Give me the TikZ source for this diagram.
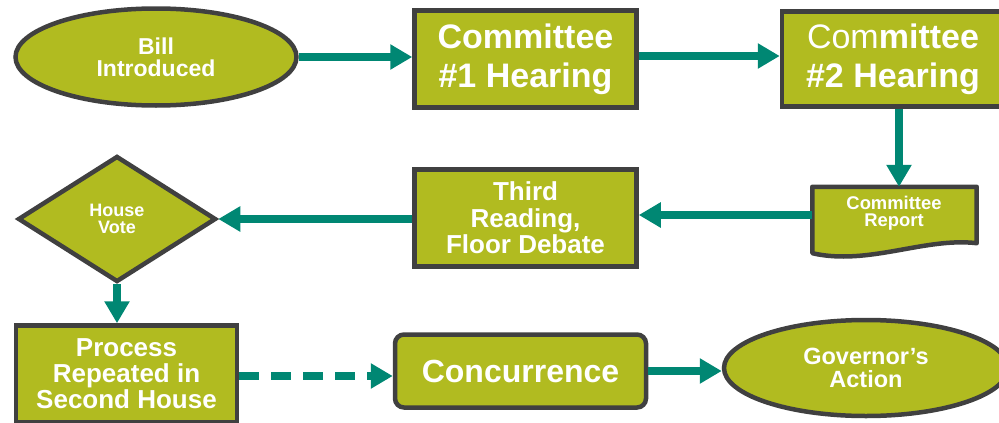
\documentclass[tikz,border=0pt]{standalone}
\usepackage{fontspec}
\setmainfont{Liberation Sans}
\usetikzlibrary{shapes.geometric,arrows.meta}
\definecolor{stepfill}{RGB}{177,187,32}
\definecolor{stepedge}{RGB}{64,64,64}
\definecolor{flowteal}{RGB}{0,135,115}
\newcommand{\fsz}[2]{\fontsize{#1}{#2}\selectfont}
\begin{document}
\begin{tikzpicture}[x=1pt,y=-1pt,
  shapebase/.style={draw=stepedge, line width=4.5pt, fill=stepfill, text=white,
    font=\bfseries, align=center, inner sep=0pt},
  stepbox/.style={shapebase, rectangle},
  oval/.style={shapebase, ellipse},
  choice/.style={shapebase, diamond},
  flow/.style={draw=flowteal, line width=7.5pt,
    -{Triangle[width=24pt,length=22pt]}},
  dashflow/.style={flow, dash pattern=on 20pt off 12pt}]
\useasboundingbox (0,0) rectangle (999,423);
\clip (0,0) rectangle (999,423);

% top row
\node[oval, minimum width=281pt, minimum height=97pt,
  font=\bfseries\fsz{23}{22}] (bill) at (156,57) {Bill\\Introduced};
\node[stepbox, minimum width=222pt, minimum height=97pt,
  font=\bfseries\fsz{34}{39}] (c1) at (525.5,59) {Committee\\\#1 Hearing};
\node[stepbox, minimum width=222pt, minimum height=95pt,
  font=\bfseries\fsz{34}{39}] (c2) at (893,59)
  {{\mdseries Com}mittee\\\#2 Hearing};

% committee report (document shape with wavy lower edge)
\node[minimum width=164pt, minimum height=66pt, inner sep=0pt] (rep) at (894.5,220) {};
\draw[draw=stepedge, line width=4.5pt, fill=stepfill, line join=round]
  (rep.north west) -- (rep.north east) -- ([yshift=10pt]rep.south east)
  .. controls (925,237) and (868,266) .. (rep.south west) -- cycle;
\node[text=white, font=\bfseries\fsz{18.4}{17}, align=center] (reptext)
  at (894,213) {Committee\\Report};

% middle row
\node[stepbox, minimum width=222pt, minimum height=97pt,
  font=\bfseries\fsz{26}{26.5}] (third) at (525.5,218) {Third\\Reading,\\Floor Debate};
\node[choice, minimum width=198pt, minimum height=126pt,
  font=\bfseries\fsz{18}{17}] (vote) at (117,219) {House\\Vote};

% bottom row
\node[stepbox, minimum width=221pt, minimum height=97pt,
  font=\bfseries\fsz{26}{26}] (second) at (126.5,374) {Process\\Repeated in\\Second House};
\node[stepbox, rounded corners=9pt, minimum width=251pt, minimum height=73pt,
  font=\bfseries\fsz{32}{36}] (conc) at (520.5,371) {Concurrence};
\node[oval, minimum width=284pt, minimum height=96pt,
  font=\bfseries\fsz{23.5}{23}] (gov) at (866,368) {Governor’s\\Action};

% connectors
\draw[flow] (bill.east |- 0,57) -- (c1.west |- 0,57);
\draw[flow] (c1.east |- 0,56) -- (c2.west |- 0,56);
\draw[flow] (c2.south -| 899,0) -- (rep.north -| 899,0);
\draw[flow] (rep.west |- 0,215) -- (third.east |- 0,215);
\draw[flow] (third.west |- vote.east) -- (vote.east);
\draw[flow] (vote.south) -- (second.north -| vote.south);
\draw[dashflow] (second.east |- 0,376) -- (conc.west |- 0,376);
\draw[flow] (conc.east |- 0,371) -- (gov.west |- 0,371);
\end{tikzpicture}
\end{document}
